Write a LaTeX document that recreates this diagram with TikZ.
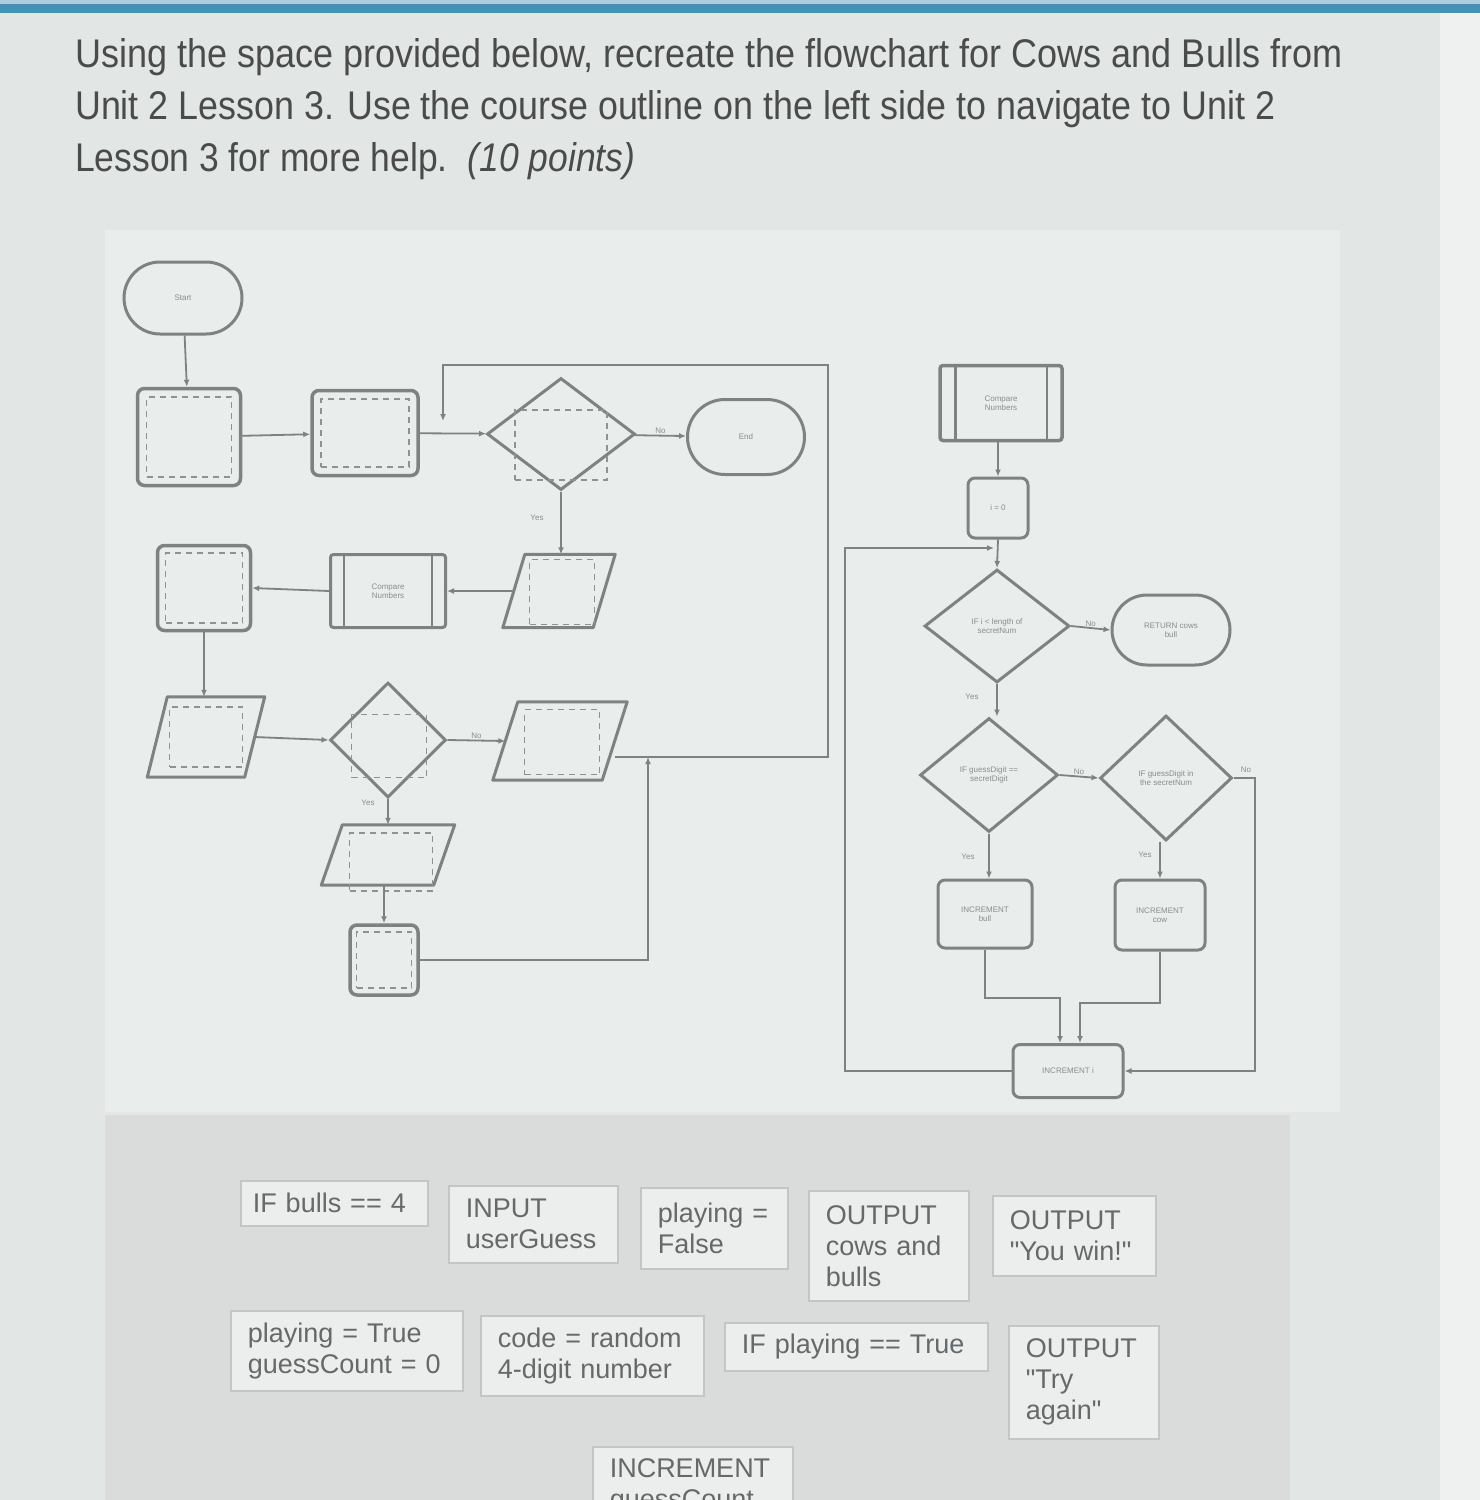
\documentclass[tikz,border=0pt]{standalone}
\usepackage{fontspec}
\setmainfont{Liberation Sans}
\newfontfamily\cardfont{Liberation Sans}
\usetikzlibrary{shapes.geometric,shapes.misc,arrows.meta}
\definecolor{bgc}{HTML}{E2E6E4}
\definecolor{edgec}{HTML}{EEF1EF}
\definecolor{topc}{HTML}{4A8FB8}
\definecolor{panelc}{HTML}{E9EDEB}
\definecolor{lowc}{HTML}{D9DCDA}
\definecolor{titc}{HTML}{4A4C4C}
\definecolor{lnc}{HTML}{7E8281}
\definecolor{phc}{HTML}{8E9291}
\definecolor{txc}{HTML}{8A8D8C}
\definecolor{cardf}{HTML}{EBEEED}
\definecolor{cardd}{HTML}{C2C6C4}
\definecolor{cardt}{HTML}{666969}
% name, x, y, inner width, height, half slant
\newcommand\mkpara[6]{%
  \node[draw=none,minimum width=#4pt,minimum height=#5pt,inner sep=0pt] (#1) at (#2,#3) {};
  \draw[shp,line join=round] ([xshift=#6pt]#1.north west) -- ([xshift=#6pt]#1.north east)
     -- ([xshift=-#6pt]#1.south east) -- ([xshift=-#6pt]#1.south west) -- cycle;}
\begin{document}
\begin{tikzpicture}[x=1pt,y=-1pt,
  shp/.style={draw=lnc,line width=3pt},
  term/.style={shp,rounded rectangle,inner sep=0pt,font=\fontsize{8}{9}\selectfont,text=txc,align=center},
  boxph/.style={shp,line width=3.5pt,rounded corners=7pt,inner sep=0pt},
  rbox/.style={shp,rounded corners=7pt,inner sep=0pt,font=\fontsize{8}{9}\selectfont,text=txc,align=center},
  ph/.style={draw=phc,line width=1.8pt,dash pattern=on 6pt off 5pt,inner sep=0pt},
  dia/.style={shp,diamond,inner sep=0pt,font=\fontsize{8}{9}\selectfont,text=txc,align=center},
  pre/.style={shp,rectangle,rounded corners=3pt,inner sep=0pt,font=\fontsize{8}{9}\selectfont,text=txc,align=center},
  conn/.style={draw=lnc,line width=1.8pt,-{Latex[length=7pt,width=6pt]}},
  lbl/.style={font=\fontsize{8}{9}\selectfont,text=txc,inner sep=1pt},
  card/.style={draw=cardd,line width=1.5pt,fill=cardf,anchor=north west,inner sep=0pt,
     font=\cardfont\fontsize{27}{31}\selectfont,text=cardt,align=left}
]
\useasboundingbox (0,0) rectangle (1480,1500);
\fill[bgc] (0,0) rectangle (1480,1500);
\fill[edgec] (1440,0) rectangle (1480,1500);
\fill[topc!45] (0,0) rectangle (1480,4);
\fill[topc] (0,4) rectangle (1480,13);
\fill[panelc] (105,230) rectangle (1340,1112);
\fill[lowc] (105,1115) rectangle (1290,1500);

% title
\node[anchor=base west,inner sep=0pt,text=titc] (t1) at (75,67)
  {\resizebox{1267pt}{\height}{\fontsize{40}{44}\selectfont Using the space provided below, recreate the flowchart for Cows and Bulls from}};
\node[anchor=base west,inner sep=0pt,text=titc] (t2) at (75,119)
  {\resizebox{1200pt}{\height}{\fontsize{40}{44}\selectfont Unit 2 Lesson 3. Use the course outline on the left side to navigate to Unit 2}};
\node[anchor=base west,inner sep=0pt,text=titc] (t3) at (75,171)
  {\resizebox{560pt}{\height}{\fontsize{40}{44}\selectfont Lesson 3 for more help.\ \ \textit{(10 points)}}};

% ---------- left flowchart ----------
\node[term,minimum width=118pt,minimum height=72pt] (start) at (183,298) {Start};
\node[boxph,minimum width=103pt,minimum height=97pt] (b1) at (189,437) {};
\node[ph,minimum width=85pt,minimum height=80pt] (q1) at (189,437) {};
\node[boxph,minimum width=106pt,minimum height=85pt] (b2) at (365,433) {};
\node[ph,minimum width=88pt,minimum height=68pt] (q2) at (365,433) {};
\node[dia,minimum width=148pt,minimum height=112pt] (d1) at (561,434) {};
\node[ph,minimum width=92pt,minimum height=70pt] (q3) at (561,445) {};
\node[term,minimum width=117pt,minimum height=75pt] (end) at (746,437) {End};

\mkpara{p1}{559}{591}{90}{73}{11}
\node[ph,minimum width=65pt,minimum height=65pt] (q4) at (562,592) {};
\node[pre,minimum width=115pt,minimum height=73pt] (cmp1) at (388,591) {Compare\\Numbers};
\draw[shp,line width=2pt] ([xshift=15pt]cmp1.north west) -- ([xshift=15pt]cmp1.south west);
\draw[shp,line width=2pt] ([xshift=-15pt]cmp1.north east) -- ([xshift=-15pt]cmp1.south east);
\node[boxph,minimum width=93pt,minimum height=85pt] (b3) at (204,588) {};
\node[ph,minimum width=77pt,minimum height=70pt] (q5) at (204,588) {};

\mkpara{p2}{206}{737}{97}{80}{10}
\node[ph,minimum width=73pt,minimum height=60pt] (q6) at (206,737) {};
\node[dia,minimum width=116pt,minimum height=115pt] (d2) at (388,740) {};
\node[ph,minimum width=75pt,minimum height=63pt] (q7) at (389,746) {};
\mkpara{p3}{560}{741}{109}{78}{12.5}
\node[ph,minimum width=75pt,minimum height=65pt] (q8) at (562,742) {};
\mkpara{p4}{388}{855}{112}{60}{10.5}
\node[ph,minimum width=83pt,minimum height=58pt] (q9) at (391,862) {};
\node[boxph,minimum width=68pt,minimum height=70pt] (b5) at (384,960) {};
\node[ph,minimum width=55pt,minimum height=56pt] (q10) at (384,960) {};

\draw[conn] (start) -- (b1);
\draw[conn] (b1) -- (b2);
\draw[conn] (b2) -- (d1);
\draw[conn] (d1) -- (end) node[lbl,midway,above] {No};
\draw[conn] (d1) -- (p1.north -| d1.south);
\node[lbl] (y1) at (537,518) {Yes};
\draw[conn] (p1.west) -- (cmp1.east);
\draw[conn] (cmp1.west) -- (b3.east);
\draw[conn] (b3.south) -- (p2.north -| b3.south);
\draw[conn] (p2.east) -- (d2.west);
\draw[conn] (d2.east) -- (p3.west) node[lbl,midway,above] {No};
\draw[conn] (d2.south) -- (p4.north -| d2.south);
\node[lbl] (y2) at (368,803) {Yes};
\draw[conn] (p4.south -| b5.north) -- (b5.north);
\coordinate (lr) at (828,757);
\coordinate (lt) at (443,365);
\coordinate (li) at (443,421);
\draw[conn] ([yshift=-16pt]p3.east) -- (lr) |- (lt) -- (li);
\coordinate (j1) at (648,757);
\draw[conn] (b5.east) -| (j1);

% ---------- right flowchart ----------
\node[pre,line width=3.5pt,minimum width=122pt,minimum height=75pt] (cmp2) at (1001,403) {Compare\\Numbers};
\draw[shp,line width=2.5pt] ([xshift=17pt]cmp2.north west) -- ([xshift=17pt]cmp2.south west);
\draw[shp,line width=2.5pt] ([xshift=-17pt]cmp2.north east) -- ([xshift=-17pt]cmp2.south east);
\node[rbox,minimum width=60pt,minimum height=60pt] (i0) at (998,508) {i = 0};
\node[dia,minimum width=145pt,minimum height=113pt] (d3) at (997,626) {IF i < length of\\secretNum};
\node[term,minimum width=118pt,minimum height=70pt] (ret) at (1171,630) {RETURN cows\\bull};
\node[dia,minimum width=138pt,minimum height=114pt] (d4) at (989,775) {IF guessDigit ==\\secretDigit};
\node[dia,minimum width=132pt,minimum height=125pt] (d5) at (1166,778) {IF guessDigit in\\the secretNum};
\node[rbox,minimum width=94pt,minimum height=68pt] (ib) at (985,914) {INCREMENT\\bull};
\node[rbox,minimum width=90pt,minimum height=70pt] (ic) at (1160,915) {INCREMENT\\cow};
\node[rbox,minimum width=110pt,minimum height=53pt] (ii) at (1068,1071) {INCREMENT i};

\draw[conn] (cmp2.south -| i0.north) -- (i0.north);
\draw[conn] (i0.south) -- (d3.north);
\coordinate (lc) at (845,1068);
\coordinate (jr) at (994,548);
\draw[conn] (ii.west) -- (ii.west -| lc) |- (jr);
\draw[conn] (d3.east) -- (ret.west) node[lbl,midway,above] {No};
\draw[conn] (d3.south) -- (d4.north -| d3.south);
\node[lbl] (y3) at (972,697) {Yes};
\draw[conn] (d4.east) -- (d5.west) node[lbl,midway,above] {No};
\draw[conn] (d4.south) -- (ib.north -| d4.south);
\node[lbl] (y4) at (968,857) {Yes};
\draw[conn] (d5.south -| ic.north) -- (ic.north);
\node[lbl] (y5) at (1145,855) {Yes};
\coordinate (rc) at (1255,1071);
\draw[conn] (d5.east) -| (rc) -- (ii.east);
\node[lbl] (n5) at (1246,770) {No};
\coordinate (m1) at (1060,998);
\coordinate (m2) at (1080,1003);
\draw[conn] (ib.south) |- (m1) -- (m1 |- ii.north);
\draw[conn] (ic.south) |- (m2) -- (m2 |- ii.north);

% ---------- answer cards ----------
\node[card,minimum width=187pt,minimum height=45pt,text width=163pt] (c1) at (240,1180) {\mbox{IF bulls == 4}};
\node[card,minimum width=169pt,minimum height=77pt,text width=135pt] (c2) at (448,1185) {INPUT\\userGuess};
\node[card,minimum width=147pt,minimum height=81pt,text width=113pt] (c3) at (640,1187) {playing =\\False};
\node[card,minimum width=160pt,minimum height=110pt,text width=126pt] (c4) at (808,1190) {OUTPUT\\cows and\\bulls};
\node[card,minimum width=163pt,minimum height=80pt,text width=129pt] (c5) at (992,1195) {OUTPUT\\"You win!"};
\node[card,minimum width=232pt,minimum height=80pt,text width=198pt] (c6) at (230,1310) {playing = True\\guessCount = 0};
\node[card,minimum width=223pt,minimum height=80pt,text width=189pt] (c7) at (480,1315) {code = random\\4-digit number};
\node[card,minimum width=263pt,minimum height=48pt,text width=229pt] (c8) at (724,1322) {IF playing == True};
\node[card,minimum width=150pt,minimum height=113pt,text width=116pt] (c9) at (1008,1325) {OUTPUT\\"Try\\again"};
\node[card,minimum width=200pt,minimum height=80pt,text width=166pt] (c10) at (592,1446) {INCREMENT\\guessCount};
\end{tikzpicture}
\end{document}
